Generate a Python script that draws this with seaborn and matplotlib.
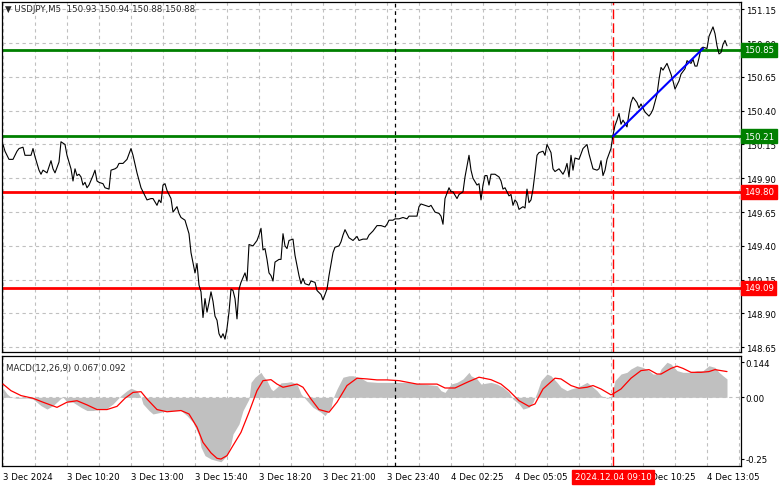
import matplotlib
matplotlib.use("Agg")
import matplotlib.pyplot as plt
import seaborn as sns

# M5 bars counted from the first bar on the chart (3 Dec 2024)
price_bar = [0, 1, 3, 5, 7, 8, 10, 11, 14, 15, 16, 18, 19, 20, 22, 24, 25, 26, 28, 29,
             31, 32, 34, 35, 36, 37, 38, 39, 40, 41, 42, 43, 45, 46, 47, 48, 50, 51, 53, 54,
             56, 57, 58, 60, 62, 63, 64, 65, 67, 69, 70, 72, 74, 75, 77, 78, 79, 80, 81, 82,
             84, 85, 87, 88, 89, 91, 93, 94, 96, 97, 98, 99, 100, 101, 102, 103, 104, 105, 106, 107,
             108, 109, 110, 111, 112, 113, 114, 115, 116, 117, 118, 119, 121, 122, 123, 125, 127, 128, 129, 130,
             131, 132, 133, 134, 135, 136, 138, 139, 140, 141, 142, 143, 145, 146, 148, 149, 150, 151, 153, 154,
             156, 157, 159, 160, 162, 163, 165, 166, 168, 169, 170, 171, 173, 174, 175, 177, 178, 180, 182, 183,
             185, 187, 189, 191, 192, 193, 195, 196, 198, 200, 202, 203, 205, 207, 208, 209, 211, 213, 214, 216,
             218, 219, 220, 221, 223, 224, 225, 227, 228, 230, 231, 232, 233, 234, 235, 237, 238, 239, 240, 241,
             242, 243, 244, 246, 248, 249, 250, 251, 253, 254, 255, 256, 257, 258, 260, 261, 262, 263, 264, 265,
             266, 267, 268, 270, 271, 272, 274, 275, 276, 278, 280, 281, 282, 283, 284, 285, 286, 288, 289, 290,
             292, 293, 295, 297, 298, 299, 300, 301, 302, 303, 304, 305, 306, 307, 308, 309, 310, 312, 313, 314,
             315, 317, 318, 319, 321, 323, 324, 325, 327, 328, 329, 330, 332, 334, 335, 336, 338, 339, 341, 342,
             344, 345, 346, 347, 348, 349, 350, 352, 353, 355, 356, 357, 358, 359, 360, 361, 362]
price_close = [150.15, 150.10, 150.04, 150.04, 150.10, 150.12, 150.13, 150.07, 150.07, 150.12, 150.06, 149.96, 149.93, 149.96, 149.94, 150.03, 149.97, 149.94, 150.02, 150.17,
               150.15, 150.07, 149.97, 149.88, 149.97, 149.92, 149.93, 149.91, 149.85, 149.87, 149.83, 149.85, 149.92, 149.96, 149.88, 149.87, 149.86, 149.83, 149.82, 149.96,
               149.97, 149.98, 150.01, 150.01, 150.04, 150.08, 150.12, 150.07, 149.94, 149.83, 149.80, 149.74, 149.75, 149.75, 149.70, 149.74, 149.72, 149.85, 149.86, 149.81,
               149.75, 149.65, 149.69, 149.64, 149.61, 149.59, 149.49, 149.35, 149.20, 149.27, 149.11, 149.06, 148.87, 149.01, 148.91, 148.98, 149.06, 148.99, 148.88, 148.85,
               148.75, 148.72, 148.75, 148.71, 148.79, 148.91, 149.08, 149.07, 149.01, 148.86, 149.08, 149.13, 149.20, 149.14, 149.41, 149.40, 149.44, 149.48, 149.53, 149.37,
               149.38, 149.30, 149.20, 149.18, 149.14, 149.28, 149.30, 149.30, 149.49, 149.40, 149.38, 149.44, 149.45, 149.33, 149.18, 149.12, 149.16, 149.12, 149.11, 149.14,
               149.13, 149.07, 149.04, 149.00, 149.08, 149.18, 149.35, 149.39, 149.40, 149.43, 149.48, 149.52, 149.46, 149.45, 149.44, 149.47, 149.44, 149.45, 149.45, 149.48,
               149.51, 149.55, 149.55, 149.54, 149.56, 149.59, 149.59, 149.60, 149.60, 149.61, 149.60, 149.62, 149.62, 149.62, 149.69, 149.71, 149.70, 149.69, 149.70, 149.65,
               149.64, 149.62, 149.56, 149.75, 149.83, 149.80, 149.80, 149.75, 149.78, 149.80, 149.91, 149.99, 150.07, 149.96, 149.90, 149.85, 149.86, 149.74, 149.85, 149.92,
               149.92, 149.85, 149.93, 149.93, 149.91, 149.88, 149.82, 149.83, 149.77, 149.78, 149.70, 149.74, 149.72, 149.67, 149.69, 149.68, 149.82, 149.72, 149.74, 149.82,
               149.94, 150.07, 150.09, 150.10, 150.07, 150.15, 150.09, 149.97, 149.95, 149.97, 149.93, 149.96, 150.01, 149.91, 150.07, 149.96, 150.05, 150.04, 150.08, 150.12,
               150.15, 150.08, 149.97, 149.96, 149.97, 150.03, 149.92, 149.96, 150.04, 150.08, 150.12, 150.22, 150.29, 150.33, 150.38, 150.30, 150.33, 150.28, 150.38, 150.46,
               150.50, 150.46, 150.42, 150.45, 150.39, 150.36, 150.38, 150.41, 150.52, 150.63, 150.72, 150.70, 150.75, 150.67, 150.62, 150.56, 150.62, 150.67, 150.71, 150.77,
               150.75, 150.78, 150.73, 150.73, 150.79, 150.86, 150.87, 150.86, 150.95, 151.02, 150.97, 150.88, 150.82, 150.83, 150.89, 150.92, 150.88]

hist_bar = [0, 2, 4, 7, 12, 15, 19, 22, 25, 29, 30, 32, 35, 39, 42, 45, 49, 52, 55, 59,
            62, 64, 67, 69, 70, 73, 75, 79, 82, 85, 89, 92, 95, 98, 99, 101, 104, 107, 109, 112,
            114, 115, 118, 120, 123, 124, 126, 129, 130, 132, 134, 135, 137, 139, 142, 144, 147, 149, 152, 155,
            159, 161, 164, 165, 167, 170, 173, 175, 179, 182, 187, 192, 197, 202, 210, 217, 219, 221, 224, 227,
            230, 233, 234, 237, 239, 244, 247, 250, 253, 255, 258, 260, 263, 265, 267, 269, 272, 274, 277, 279,
            282, 284, 287, 289, 292, 294, 297, 299, 302, 304, 306, 309, 312, 314, 317, 320, 323, 325, 328, 329,
            332, 334, 337, 340, 344, 347, 350, 353, 356, 358, 360, 362]
hist_val = [0.037, 0.014, 0.0, -0.004, -0.003, -0.007, -0.034, -0.048, -0.034, -0.004, 0.0, -0.018, -0.020, -0.041, -0.054, -0.054, -0.048, -0.045, -0.027, 0.007,
            0.027, 0.037, 0.027, 0.0, -0.027, -0.054, -0.068, -0.061, -0.054, -0.054, -0.054, -0.075, -0.102, -0.156, -0.204, -0.238, -0.252, -0.259, -0.263, -0.238,
            -0.190, -0.150, -0.109, -0.054, -0.007, 0.061, 0.082, 0.102, 0.088, 0.068, 0.034, 0.027, 0.041, 0.059, 0.061, 0.064, 0.054, 0.014, -0.014, -0.041,
            -0.061, -0.075, -0.041, -0.004, 0.034, 0.082, 0.088, 0.088, 0.078, 0.064, 0.061, 0.061, 0.061, 0.061, 0.054, 0.048, 0.027, 0.020, 0.054, 0.061,
            0.075, 0.102, 0.088, 0.075, 0.054, 0.061, 0.054, 0.041, 0.020, -0.007, -0.027, -0.048, -0.041, -0.020, 0.020, 0.068, 0.095, 0.088, 0.061, 0.041,
            0.027, 0.034, 0.041, 0.048, 0.061, 0.048, 0.027, 0.007, -0.004, 0.0, 0.068, 0.095, 0.102, 0.116, 0.129, 0.122, 0.109, 0.095, 0.095, 0.116,
            0.143, 0.136, 0.109, 0.102, 0.102, 0.109, 0.109, 0.129, 0.122, 0.102, 0.088, 0.075]

sig_bar = [0, 4, 9, 15, 20, 27, 32, 37, 42, 47, 52, 57, 61, 65, 69, 72, 77, 82, 89, 93,
           97, 100, 104, 107, 109, 112, 115, 119, 123, 127, 130, 134, 137, 140, 144, 147, 150, 154, 158, 163,
           167, 172, 177, 182, 187, 192, 198, 207, 217, 221, 226, 232, 238, 244, 249, 253, 258, 263, 266, 270,
           276, 279, 284, 288, 292, 295, 299, 304, 305, 309, 314, 319, 323, 327, 329, 334, 337, 340, 344, 349,
           353, 356, 359, 362]
sig_val = [0.054, 0.027, 0.007, -0.004, -0.020, -0.041, -0.020, -0.014, -0.031, -0.050, -0.050, -0.037, -0.004, 0.020, 0.023, -0.007, -0.050, -0.059, -0.054, -0.068,
           -0.122, -0.184, -0.227, -0.249, -0.252, -0.238, -0.197, -0.143, -0.061, 0.027, 0.068, 0.072, 0.054, 0.041, 0.048, 0.054, 0.041, -0.007, -0.050, -0.061,
           -0.020, 0.048, 0.078, 0.075, 0.071, 0.071, 0.068, 0.054, 0.054, 0.038, 0.038, 0.061, 0.082, 0.072, 0.054, 0.027, -0.014, -0.037, -0.027, 0.034,
           0.078, 0.075, 0.048, 0.037, 0.041, 0.048, 0.034, 0.010, 0.014, 0.034, 0.078, 0.109, 0.113, 0.095, 0.095, 0.118, 0.127, 0.118, 0.102, 0.102,
           0.105, 0.113, 0.109, 0.105]

green_levels = [150.85, 150.21]
red_levels = [149.80, 149.09]
trend_bar = [305, 350]
trend_price = [150.21, 150.86]
day_break_bar = 196
signal_bar = 305
signal_label = "2024.12.04 09:10"

price_ticks = [148.65, 148.90, 149.15, 149.40, 149.65, 149.90, 150.15, 150.40, 150.65, 150.90, 151.15]
macd_ticks = [0.144, 0.0, -0.25]
macd_tick_labels = ["0.144", "0.00", "-0.25"]
time_ticks = [0, 32, 64, 96, 128, 160, 192, 224, 256, 288, 320, 352]
# the 288 label sits under the red time marker, so it is left blank
time_labels = ["3 Dec 2024", "3 Dec 10:20", "3 Dec 13:00", "3 Dec 15:40", "3 Dec 18:20", "3 Dec 21:00",
               "3 Dec 23:40", "4 Dec 02:25", "4 Dec 05:05", "", "4 Dec 10:25", "4 Dec 13:05"]
title = "\u25bc USDJPY,M5  150.93 150.94 150.88 150.88"
macd_title = "MACD(12,26,9) 0.067 0.092"

sns.set_style("white")
plt.rcParams["font.family"] = ["DejaVu Sans"]
FS = 6.2
GREEN = "#008000"
RED = "#ff0000"

fig = plt.figure(figsize=(7.81, 4.89), dpi=100)
ax = fig.add_axes([2 / 781, 1 - 353 / 489, 739 / 781, 350 / 489])
axm = fig.add_axes([2 / 781, 1 - 467 / 489, 739 / 781, 110 / 489])

grid_kw = dict(color="#c0c0c0", lw=0.8, ls=(0, (3, 3)), zorder=0)
for b in range(0, 369, 16):
    ax.axvline(b, **grid_kw)
    axm.axvline(b, **grid_kw)
for p in price_ticks:
    ax.axhline(p, **grid_kw)
axm.axhline(0, **grid_kw)

# price panel
for lv in green_levels:
    ax.axhline(lv, color=GREEN, lw=2.0, zorder=2)
for lv in red_levels:
    ax.axhline(lv, color=RED, lw=2.0, zorder=2)
sns.lineplot(x=price_bar, y=price_close, ax=ax, color="black", lw=0.8, estimator=None, zorder=3)
sns.lineplot(x=trend_bar, y=trend_price, ax=ax, color="#0000ff", lw=1.5, estimator=None, zorder=4)

# macd panel
axm.fill_between(hist_bar, 0, hist_val, color="#c0c0c0", lw=0, zorder=1)
sns.lineplot(x=sig_bar, y=sig_val, ax=axm, color=RED, lw=0.9, estimator=None, zorder=3)

for a in (ax, axm):
    a.axvline(day_break_bar, color="black", lw=0.9, ls=(0, (3, 3)), zorder=2)
    a.axvline(signal_bar, color=RED, lw=1.0, ls=(0, (7, 3)), zorder=2)
    a.set_xlim(-0.5, 369)
    for s in a.spines.values():
        s.set_color("black")
        s.set_linewidth(0.9)
    a.yaxis.tick_right()
    a.tick_params(axis="y", direction="out", length=2, width=0.8, pad=1.5,
                  labelsize=FS, colors="black")
    a.set_xlabel("")
    a.set_ylabel("")

ax.set_ylim(148.615, 151.204)
ax.set_yticks(price_ticks)
ax.set_yticklabels([f"{p:.2f}" for p in price_ticks])
ax.set_xticks([])

axm.set_ylim(-0.2804, 0.1686)
axm.set_yticks(macd_ticks)
axm.set_yticklabels(macd_tick_labels)
axm.set_xticks(time_ticks)
axm.set_xticklabels(time_labels, ha="left")
axm.tick_params(axis="x", direction="out", length=2, width=0.8, pad=2,
                labelsize=FS, colors="black")

# price tags on the right scale
for lv, col in [(v, GREEN) for v in green_levels] + [(v, RED) for v in red_levels]:
    ax.text(1.004, lv, f"{lv:.2f}", transform=ax.get_yaxis_transform(), color="white",
            fontsize=FS, ha="left", va="center", clip_on=False, zorder=10,
            bbox=dict(boxstyle="square,pad=0.3", fc=col, ec=col))

axm.text(signal_bar, -0.1, signal_label, transform=axm.get_xaxis_transform(), color="white",
         fontsize=FS, ha="center", va="center", clip_on=False, zorder=10,
         bbox=dict(boxstyle="square,pad=0.3", fc=RED, ec=RED))

fig.text(5 / 781, 1 - 10 / 489, title, fontsize=FS, va="center", ha="left")
axm.text(0.006, 0.9, macd_title, transform=axm.transAxes, fontsize=FS, va="center", ha="left")

fig.savefig("out.png", dpi=100)
